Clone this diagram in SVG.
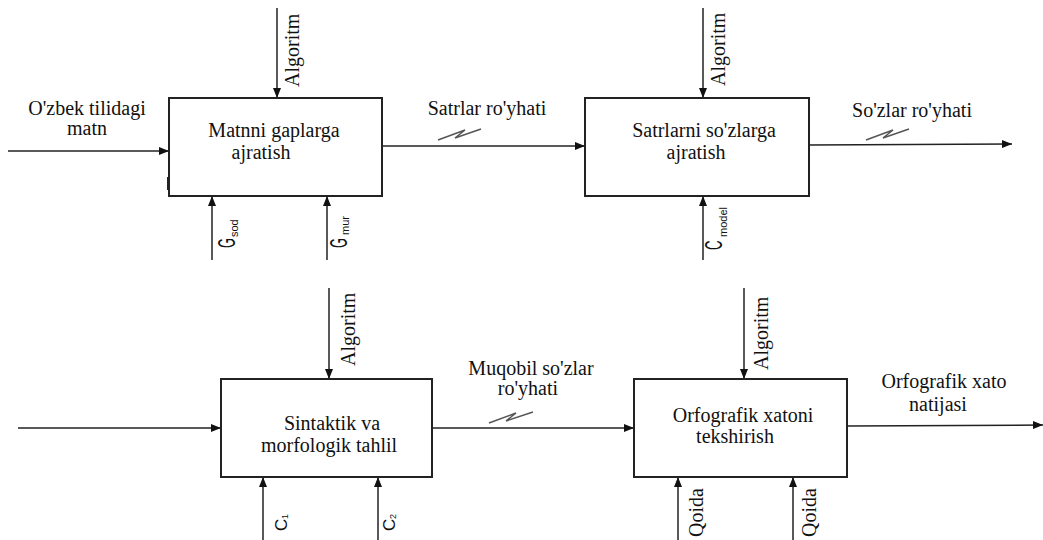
<svg xmlns="http://www.w3.org/2000/svg" width="1043" height="540" viewBox="0 0 1043 540">
  <defs>
    <marker id="arr" viewBox="0 0 10 8" refX="10" refY="4" markerWidth="10" markerHeight="8" markerUnits="userSpaceOnUse" orient="auto">
      <path d="M0,0 L10,4 L0,8 Z" fill="#111"/>
    </marker>
    <style>
      .box { fill: #fff; stroke: #222; stroke-width: 2; }
      .ln { fill: none; stroke: #222; stroke-width: 1.5; }
      .sq { fill: none; stroke: #555; stroke-width: 1.5; }
      .t { font-family: "Liberation Serif", "Times New Roman", serif; font-size: 20px; fill: #111; }
      .c { text-anchor: middle; }
      .g { font-family: "Liberation Sans", Arial, sans-serif; fill: #111; }
    </style>
  </defs>

  <rect width="1043" height="540" fill="#fff"/>

  <!-- connectors -->
  <g id="connectors">
    <!-- row 1 -->
    <line class="ln" x1="8" y1="151" x2="169" y2="151" marker-end="url(#arr)"/>
    <line class="ln" x1="277" y1="8" x2="277" y2="98" marker-end="url(#arr)"/>
    <line class="ln" x1="212" y1="260" x2="212" y2="196" marker-end="url(#arr)"/>
    <line class="ln" x1="327" y1="260" x2="327" y2="196" marker-end="url(#arr)"/>
    <line class="ln" x1="382" y1="146" x2="585" y2="146" marker-end="url(#arr)"/>
    <polyline class="sq" points="438,140 465,130 455,138 481,129"/>
    <line class="ln" x1="703" y1="8" x2="703" y2="98" marker-end="url(#arr)"/>
    <line class="ln" x1="703" y1="260" x2="703" y2="196" marker-end="url(#arr)"/>
    <line class="ln" x1="809" y1="145" x2="1012" y2="144" marker-end="url(#arr)"/>
    <polyline class="sq" points="866,140 893,130 883,138 909,129"/>
    <!-- row 2 -->
    <line class="ln" x1="18" y1="428" x2="221" y2="428" marker-end="url(#arr)"/>
    <line class="ln" x1="329" y1="288" x2="329" y2="379" marker-end="url(#arr)"/>
    <line class="ln" x1="263" y1="540" x2="263" y2="477" marker-end="url(#arr)"/>
    <line class="ln" x1="378" y1="540" x2="378" y2="477" marker-end="url(#arr)"/>
    <line class="ln" x1="432" y1="428" x2="634" y2="428" marker-end="url(#arr)"/>
    <polyline class="sq" points="489,423 516,413 506,421 533,412"/>
    <line class="ln" x1="744" y1="288" x2="744" y2="379" marker-end="url(#arr)"/>
    <line class="ln" x1="678" y1="540" x2="678" y2="477" marker-end="url(#arr)"/>
    <line class="ln" x1="793" y1="540" x2="793" y2="477" marker-end="url(#arr)"/>
    <line class="ln" x1="847" y1="426" x2="1043" y2="425" marker-end="url(#arr)"/>
  </g>

  <!-- box 1 -->
  <g id="matnni-gaplarga">
    <rect class="box" x="169" y="98" width="213" height="98"/>
    <line x1="168" y1="177" x2="168" y2="190" stroke="#222" stroke-width="2"/>
    <text class="t c" x="274" y="137">Matnni gaplarga</text>
    <text class="t c" x="261" y="159">ajratish</text>
  </g>

  <!-- box 2 -->
  <g id="satrlarni-sozlarga">
    <rect class="box" x="585" y="98" width="224" height="98"/>
    <text class="t c" x="704" y="137">Satrlarni so'zlarga</text>
    <text class="t c" x="696" y="159">ajratish</text>
  </g>

  <!-- box 3 -->
  <g id="sintaktik-tahlil">
    <rect class="box" x="221" y="379" width="211" height="98"/>
    <text class="t c" x="332" y="430">Sintaktik va</text>
    <text class="t c" x="329" y="452">morfologik tahlil</text>
  </g>

  <!-- box 4 -->
  <g id="orfografik-tekshirish">
    <rect class="box" x="634" y="379" width="213" height="98"/>
    <text class="t c" x="743" y="422">Orfografik xatoni</text>
    <text class="t c" x="735" y="443">tekshirish</text>
  </g>

  <!-- arrow labels -->
  <g id="labels">
    <text class="t c" x="87" y="115">O'zbek tilidagi</text>
    <text class="t c" x="87" y="135">matn</text>
    <text class="t c" x="487" y="115">Satrlar ro'yhati</text>
    <text class="t c" x="912" y="117">So'zlar ro'yhati</text>
    <text class="t c" x="531" y="375">Muqobil so'zlar</text>
    <text class="t c" x="528" y="395">ro'yhati</text>
    <text class="t c" x="944" y="388">Orfografik xato</text>
    <text class="t c" x="938" y="411">natijasi</text>

    <!-- vertical mechanism / control labels -->
    <text class="t" transform="translate(299,87) rotate(-90)">Algoritm</text>
    <text class="t" transform="translate(725,86) rotate(-90)">Algoritm</text>
    <text class="t" transform="translate(355,366) rotate(-90)">Algoritm</text>
    <text class="t" transform="translate(768,370) rotate(-90)">Algoritm</text>
    <text class="t" transform="translate(703,537) rotate(-90)">Qoida</text>
    <text class="t" transform="translate(816,537) rotate(-90)">Qoida</text>

    <text class="g" font-size="23" transform="translate(235,248) rotate(-90) scale(0.55,1)">G</text>
    <text class="g" font-size="11" transform="translate(238,237) rotate(-90)">sod</text>
    <text class="g" font-size="23" transform="translate(347,248) rotate(-90) scale(0.55,1)">G</text>
    <text class="g" font-size="11" transform="translate(349,235) rotate(-90)">mur</text>
    <text class="g" font-size="24" transform="translate(722,250) rotate(-90) scale(0.55,1)">C</text>
    <text class="g" font-size="11" transform="translate(727,237) rotate(-90)">model</text>
    <text class="g" font-size="17" transform="translate(287,531) rotate(-90)">C</text>
    <text class="g" font-size="9" transform="translate(288,519) rotate(-90)">1</text>
    <text class="g" font-size="17" transform="translate(395,531) rotate(-90)">C</text>
    <text class="g" font-size="9" transform="translate(396,519) rotate(-90)">2</text>
  </g>
</svg>
